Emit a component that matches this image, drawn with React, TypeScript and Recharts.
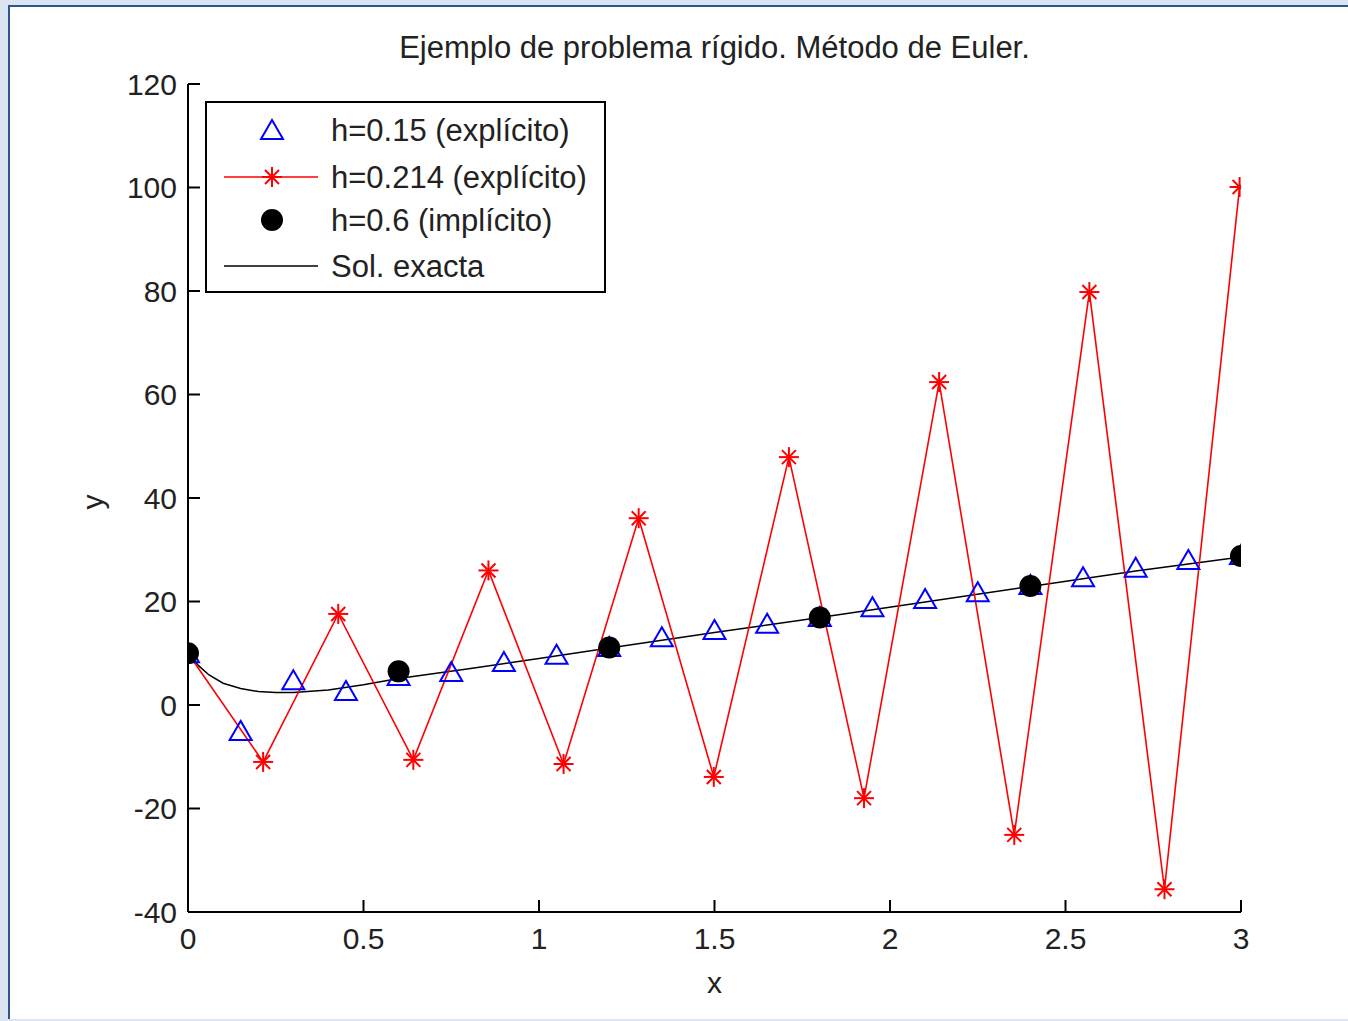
// Problema rígido resuelto con Euler explícito/implícito frente a la solución exacta.
import { ComposedChart, Line, XAxis, YAxis, Label } from 'recharts';

const FONT = '"Liberation Sans", Arial, sans-serif';
const TEXT = '#222';

const xTicks = [0, 0.5, 1, 1.5, 2, 2.5, 3];
const yTicks = [-40, -20, 0, 20, 40, 60, 80, 100, 120];

// h = 0.15, Euler explícito
const xH015 = [0, 0.15, 0.3, 0.45, 0.6, 0.75, 0.9, 1.05, 1.2, 1.35, 1.5, 1.65, 1.8, 1.95, 2.1, 2.25, 2.4, 2.55, 2.7, 2.85, 3.0];
const yH015 = [10, -5, 4.8, 2.7, 5.6, 6.4, 8.3, 9.7, 11.2, 13.1, 14.5, 15.7, 17, 18.9, 20.5, 21.8, 23.2, 24.7, 26.5, 28, 29];

// h = 0.214, Euler explícito (inestable)
const xH0214 = [0, 0.214, 0.428, 0.642, 0.856, 1.07, 1.284, 1.498, 1.712, 1.926, 2.14, 2.354, 2.568, 2.782, 2.996];
const yH0214 = [10, -11, 17.6, -10.6, 26, -11.4, 36.1, -13.9, 47.9, -18, 62.4, -25.1, 79.8, -35.6, 100.1];

// h = 0.6, Euler implícito
const xH06 = [0, 0.6, 1.2, 1.8, 2.4, 3.0];
const yH06 = [10, 6.5, 11.1, 16.9, 23, 28.8];

// solución exacta
const xExact = [0, 0.03, 0.06, 0.1, 0.15, 0.2, 0.25, 0.3, 0.4, 0.5, 0.6, 0.8, 1.0, 1.2, 1.5, 1.8, 2.1, 2.4, 2.7, 3.0];
const yExact = [10, 7.6, 5.8, 4.2, 3.2, 2.6, 2.4, 2.4, 2.9, 3.9, 5.1, 7.0, 9.0, 11.0, 14.0, 16.9, 19.9, 22.9, 25.9, 28.6];

const toPoints = (xs: number[], ys: number[]) => xs.map((x, i) => ({ x, y: ys[i] }));

function triangle(cx: number, cy: number, key?: number) {
  return (
    <path
      key={key}
      d={`M${cx},${cy - 10} L${cx + 11},${cy + 9} L${cx - 11},${cy + 9} Z`}
      fill="none"
      stroke="#0000ff"
      strokeWidth={2}
    />
  );
}

function star(cx: number, cy: number, key?: number) {
  const r = 10;
  const d = 7;
  return (
    <g key={key} stroke="#ff0000" strokeWidth={2}>
      <line x1={cx - r} y1={cy} x2={cx + r} y2={cy} />
      <line x1={cx} y1={cy - r} x2={cx} y2={cy + r} />
      <line x1={cx - d} y1={cy - d} x2={cx + d} y2={cy + d} />
      <line x1={cx - d} y1={cy + d} x2={cx + d} y2={cy - d} />
    </g>
  );
}

function blackDot(cx: number, cy: number, key?: number) {
  return <circle key={key} cx={cx} cy={cy} r={11} fill="#000" />;
}

const legendItems = [
  { name: 'h=0.15 (explícito)', kind: 'tri' },
  { name: 'h=0.214 (explícito)', kind: 'star' },
  { name: 'h=0.6 (implícito)', kind: 'dot' },
  { name: 'Sol. exacta', kind: 'line' },
];
const legendRows = [130, 177, 220, 266];

export default function App() {
  return (
    <div style={{ position: 'absolute', left: 0, top: 0, width: 1348, height: 1021, background: '#dbe5f1', overflow: 'hidden' }}>
      <div
        style={{
          position: 'absolute',
          left: 8,
          top: 5,
          width: 1340,
          height: 1014,
          background: '#fff',
          borderTop: '2px solid #2c5491',
          borderLeft: '2px solid #2c5491',
          boxSizing: 'border-box',
        }}
      />
      <div
        style={{
          position: 'absolute',
          left: 188,
          width: 1053,
          top: 29,
          textAlign: 'center',
          fontFamily: FONT,
          fontSize: 31,
          color: TEXT,
          lineHeight: '38px',
        }}
      >
        Ejemplo de problema rígido. Método de Euler.
      </div>
      <div style={{ position: 'absolute', left: 0, top: 0 }}>
        <ComposedChart width={1348} height={1021} margin={{ top: 84, right: 107, bottom: 0, left: 0 }}>
          <XAxis
            type="number"
            dataKey="x"
            domain={[0, 3]}
            ticks={xTicks}
            allowDataOverflow
            height={109}
            tickSize={-12}
            tickMargin={28}
            axisLine={{ stroke: '#000', strokeWidth: 2 }}
            tickLine={{ stroke: '#000', strokeWidth: 2 }}
            tick={{ fill: TEXT, fontSize: 30, fontFamily: FONT }}
            tickFormatter={(v: number) => String(v)}
          >
            <Label value="x" position="insideBottom" offset={28} fill={TEXT} fontSize={30} fontFamily={FONT} />
          </XAxis>
          <YAxis
            type="number"
            dataKey="y"
            domain={[-40, 120]}
            ticks={yTicks}
            allowDataOverflow
            width={188}
            tickSize={-12}
            tickMargin={23}
            axisLine={{ stroke: '#000', strokeWidth: 2 }}
            tickLine={{ stroke: '#000', strokeWidth: 2 }}
            tick={{ fill: TEXT, fontSize: 30, fontFamily: FONT }}
          >
            <Label
              content={() => (
                <text
                  x={103}
                  y={502}
                  transform="rotate(-90 103 502)"
                  textAnchor="middle"
                  fill={TEXT}
                  fontSize={30}
                  fontFamily={FONT}
                >
                  y
                </text>
              )}
            />
          </YAxis>
          <Line
            data={toPoints(xExact, yExact)}
            dataKey="y"
            type="linear"
            stroke="#000"
            strokeWidth={1.5}
            dot={false}
            isAnimationActive={false}
          />
          <Line
            data={toPoints(xH015, yH015)}
            dataKey="y"
            stroke="none"
            dot={(p: any) => triangle(p.cx, p.cy, p.index)}
            activeDot={false}
            isAnimationActive={false}
          />
          <Line
            data={toPoints(xH0214, yH0214)}
            dataKey="y"
            type="linear"
            stroke="#ff0000"
            strokeWidth={1.6}
            dot={(p: any) => star(p.cx, p.cy, p.index)}
            activeDot={false}
            isAnimationActive={false}
          />
          <Line
            data={toPoints(xH06, yH06)}
            dataKey="y"
            stroke="none"
            dot={(p: any) => blackDot(p.cx, p.cy, p.index)}
            activeDot={false}
            isAnimationActive={false}
          />
        </ComposedChart>
      </div>
      <div
        style={{
          position: 'absolute',
          left: 205,
          top: 101,
          width: 401,
          height: 192,
          border: '2px solid #000',
          boxSizing: 'border-box',
          background: '#fff',
        }}
      >
        <svg width={397} height={188} style={{ position: 'absolute', left: 0, top: 0 }}>
          {legendItems.map((it, i) => {
            const cy = legendRows[i] - 103;
            const cx = 272 - 207;
            return (
              <g key={it.name}>
                {it.kind === 'tri' && triangle(cx, cy)}
                {it.kind === 'star' && (
                  <g>
                    <line x1={224 - 207} y1={cy} x2={318 - 207} y2={cy} stroke="#ff0000" strokeWidth={1.6} />
                    {star(cx, cy)}
                  </g>
                )}
                {it.kind === 'dot' && blackDot(cx, cy)}
                {it.kind === 'line' && (
                  <line x1={224 - 207} y1={cy} x2={318 - 207} y2={cy} stroke="#000" strokeWidth={1.5} />
                )}
                <text x={331 - 207} y={cy} dominantBaseline="central" fill={TEXT} fontSize={31} fontFamily={FONT}>
                  {it.name}
                </text>
              </g>
            );
          })}
        </svg>
      </div>
    </div>
  );
}
